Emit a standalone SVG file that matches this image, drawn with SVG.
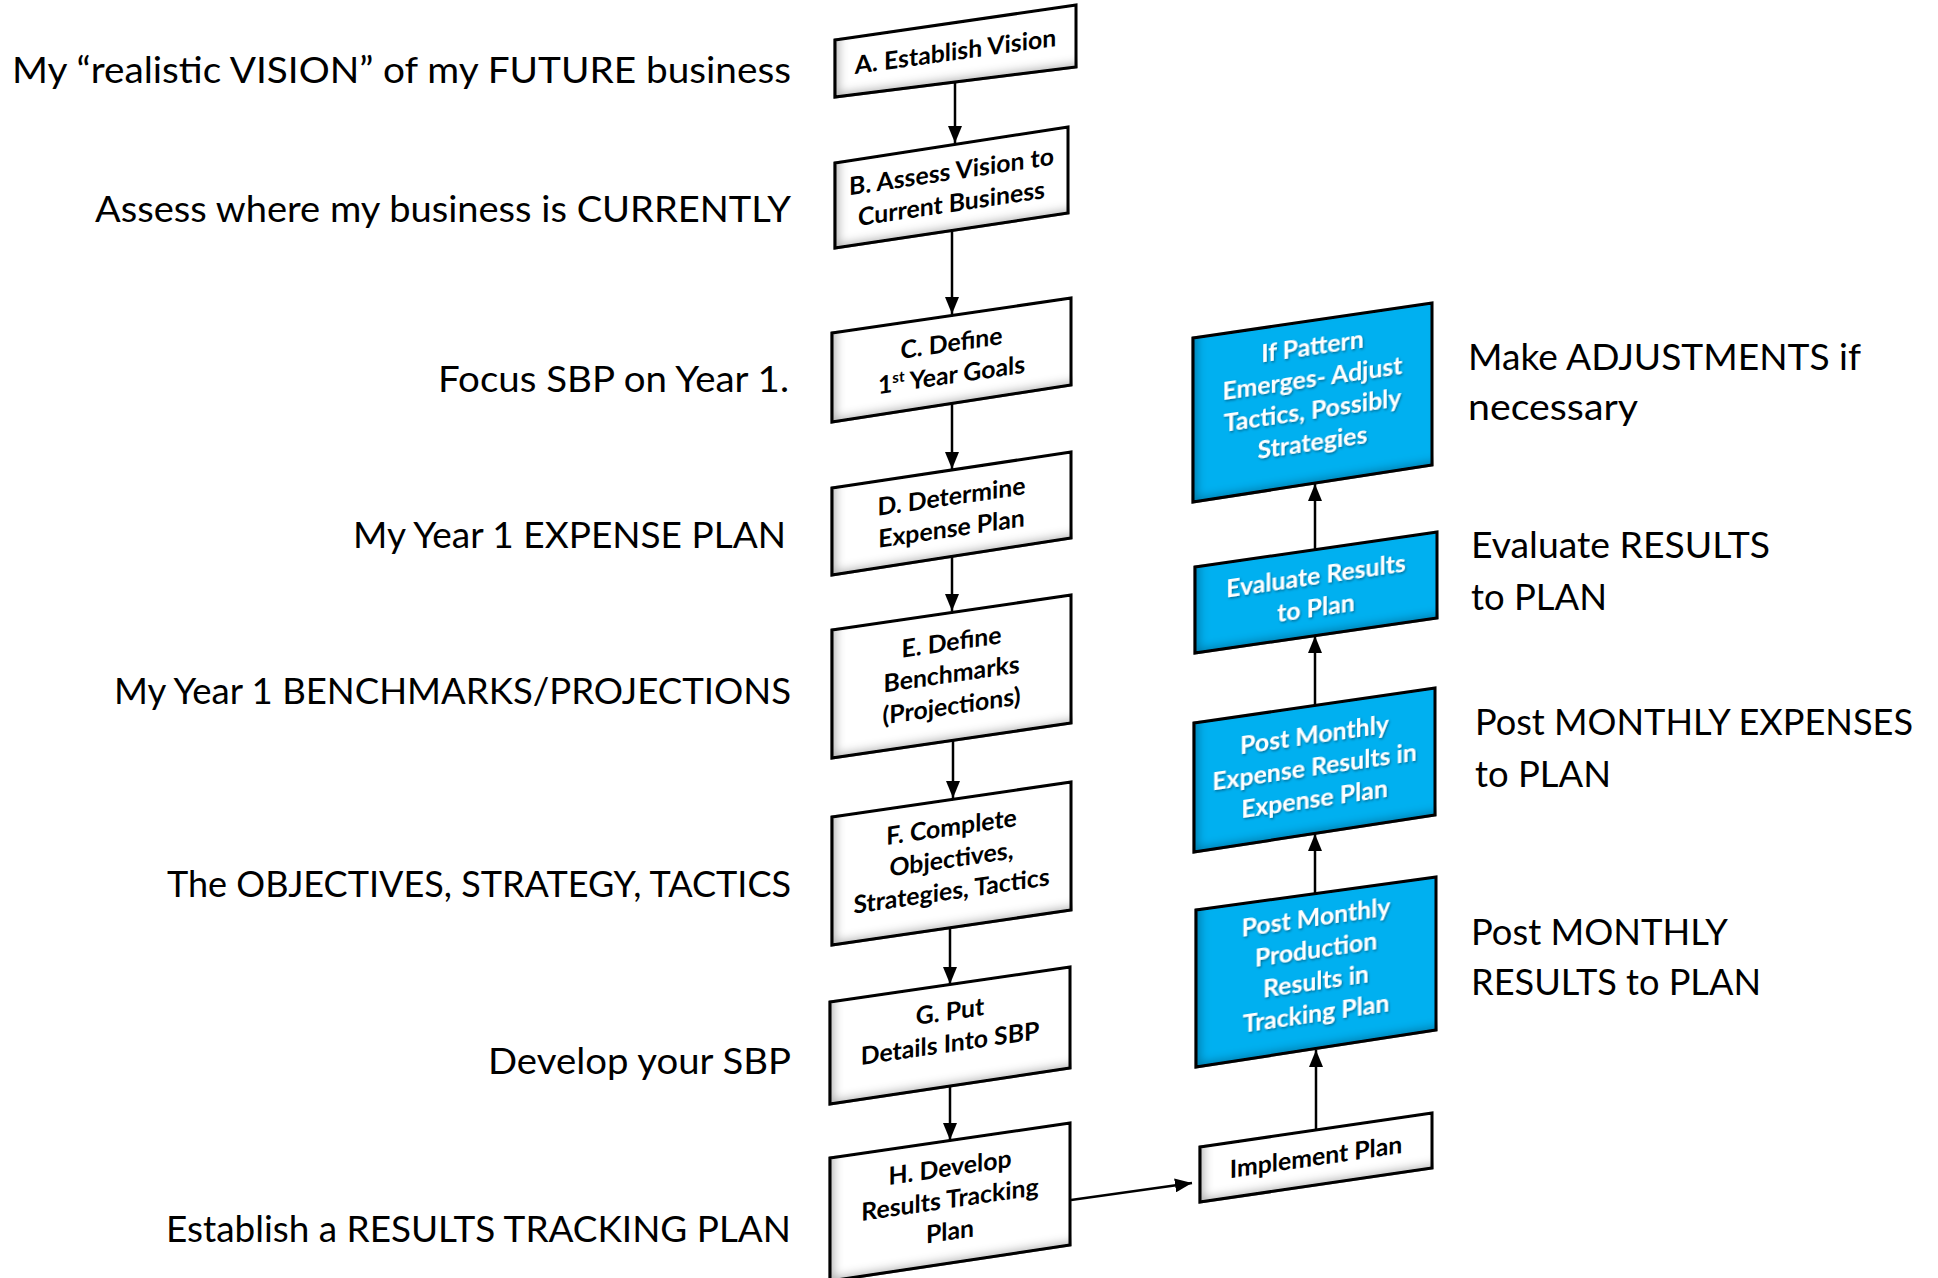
<svg xmlns="http://www.w3.org/2000/svg" width="1938" height="1278" viewBox="0 0 1938 1278">
  <style>
    .label { font-family: Lato, "Liberation Sans", sans-serif; font-size: 37px; fill: #000; }
    .box { stroke: #000; stroke-width: 3; stroke-linejoin: miter; filter: url(#inner); }
    .plain { fill: #fff; }
    .blue { fill: #00B0F0; }
    .bt { font-family: Lato, "Liberation Sans", sans-serif; font-weight: 700; font-size: 24.8px; text-anchor: middle; fill: #000; }
    .wt { font-family: Lato, "Liberation Sans", sans-serif; font-weight: 700; font-size: 24.8px; text-anchor: middle; fill: #fff; filter: url(#tshadow); }
    .link { stroke: #000; stroke-width: 2.5; fill: none; marker-end: url(#arrow); }
  </style>
  <defs>
    <!-- inset shading along the left and bottom edges of every box -->
    <filter id="inner" x="-15%" y="-25%" width="130%" height="150%">
      <feComponentTransfer in="SourceAlpha" result="inv">
        <feFuncA type="table" tableValues="1 0"/>
      </feComponentTransfer>
      <feOffset in="inv" dx="6" dy="-6" result="off"/>
      <feGaussianBlur in="off" stdDeviation="5" result="blur"/>
      <feFlood flood-color="#000" flood-opacity="0.55" result="col"/>
      <feComposite in="col" in2="blur" operator="in" result="sh"/>
      <feComposite in="sh" in2="SourceAlpha" operator="in" result="inset"/>
      <feMerge>
        <feMergeNode in="SourceGraphic"/>
        <feMergeNode in="inset"/>
      </feMerge>
    </filter>
    <filter id="tshadow" x="-10%" y="-30%" width="120%" height="160%">
      <feDropShadow dx="1" dy="1.5" stdDeviation="1" flood-color="#003a55" flood-opacity="0.6"/>
    </filter>
    <marker id="arrow" markerUnits="userSpaceOnUse" markerWidth="18" markerHeight="14" refX="17" refY="7" orient="auto">
      <path d="M0,0 L17,7 L0,14 Z" fill="#000"/>
    </marker>
  </defs>

  <rect width="1938" height="1278" fill="#fff"/>

  <!-- descriptions beside the planning steps -->
  <g id="labels-left">
    <text class="label" x="12" y="83" textLength="779" lengthAdjust="spacingAndGlyphs">My “realistic VISION” of my FUTURE business</text>
    <text class="label" x="95" y="222" textLength="696" lengthAdjust="spacingAndGlyphs">Assess where my business is CURRENTLY</text>
    <text class="label" x="438" y="392" textLength="351" lengthAdjust="spacingAndGlyphs">Focus SBP on Year 1.</text>
    <text class="label" x="353" y="548" textLength="433" lengthAdjust="spacingAndGlyphs">My Year 1 EXPENSE PLAN</text>
    <text class="label" x="114" y="704" textLength="677" lengthAdjust="spacingAndGlyphs">My Year 1 BENCHMARKS/PROJECTIONS</text>
    <text class="label" x="167" y="897" textLength="624" lengthAdjust="spacingAndGlyphs">The OBJECTIVES, STRATEGY, TACTICS</text>
    <text class="label" x="488" y="1074" textLength="303" lengthAdjust="spacingAndGlyphs">Develop your SBP</text>
    <text class="label" x="166" y="1242" textLength="625" lengthAdjust="spacingAndGlyphs">Establish a RESULTS TRACKING PLAN</text>
  </g>

  <!-- descriptions beside the monitoring steps -->
  <g id="labels-right">
    <text class="label" x="1468" y="370" textLength="393" lengthAdjust="spacingAndGlyphs">Make ADJUSTMENTS if</text>
    <text class="label" x="1468" y="420" textLength="170" lengthAdjust="spacingAndGlyphs">necessary</text>
    <text class="label" x="1471" y="558" textLength="299" lengthAdjust="spacingAndGlyphs">Evaluate RESULTS</text>
    <text class="label" x="1471" y="610" textLength="136" lengthAdjust="spacingAndGlyphs">to PLAN</text>
    <text class="label" x="1475" y="735" textLength="438" lengthAdjust="spacingAndGlyphs">Post MONTHLY EXPENSES</text>
    <text class="label" x="1475" y="787" textLength="136" lengthAdjust="spacingAndGlyphs">to PLAN</text>
    <text class="label" x="1471" y="945" textLength="257" lengthAdjust="spacingAndGlyphs">Post MONTHLY</text>
    <text class="label" x="1471" y="995" textLength="290" lengthAdjust="spacingAndGlyphs">RESULTS to PLAN</text>
  </g>

  <!-- connectors -->
  <g id="connectors">
    <line class="link" x1="955" y1="82" x2="955" y2="143"/>
    <line class="link" x1="952" y1="230" x2="952" y2="314"/>
    <line class="link" x1="952" y1="404" x2="952" y2="469"/>
    <line class="link" x1="952" y1="556" x2="952" y2="611"/>
    <line class="link" x1="953" y1="740" x2="953" y2="798"/>
    <line class="link" x1="950" y1="928" x2="950" y2="984"/>
    <line class="link" x1="950" y1="1086" x2="950" y2="1140"/>
    <line class="link" x1="1071" y1="1200" x2="1192" y2="1183"/>
    <line class="link" x1="1316" y1="1130" x2="1316" y2="1050"/>
    <line class="link" x1="1315" y1="893" x2="1315" y2="834"/>
    <line class="link" x1="1315" y1="705" x2="1315" y2="636"/>
    <line class="link" x1="1315" y1="549" x2="1315" y2="484"/>
  </g>

  <!-- planning steps -->
  <g id="node-a">
    <polygon class="box plain" points="835,40 1076,5 1076,67 835,97"/>
    <g transform="translate(955.5,52) skewY(-7.9)">
      <text class="bt" y="8">A. Establish Vision</text>
    </g>
  </g>
  <g id="node-b">
    <polygon class="box plain" points="835,163 1068,127 1068,213 835,248"/>
    <g transform="translate(951.5,188) skewY(-8.5)">
      <text class="bt" y="-8">B. Assess Vision to</text>
      <text class="bt" y="24">Current Business</text>
    </g>
  </g>
  <g id="node-c">
    <polygon class="box plain" points="832,333 1071,298 1071,385 832,422"/>
    <g transform="translate(951.5,359.5) skewY(-8.33)">
      <text class="bt" y="-8">C. Define</text>
      <text class="bt" y="24">1<tspan font-size="15" dy="-9">st</tspan><tspan dy="9"> Year Goals</tspan></text>
    </g>
  </g>
  <g id="node-d">
    <polygon class="box plain" points="832,488 1071,452 1071,538 832,575"/>
    <g transform="translate(951.5,513) skewY(-8.33)">
      <text class="bt" y="-8">D. Determine</text>
      <text class="bt" y="24">Expense Plan</text>
    </g>
  </g>
  <g id="node-e">
    <polygon class="box plain" points="832,630 1071,595 1071,723 832,758"/>
    <g transform="translate(951.5,676.5) skewY(-8.33)">
      <text class="bt" y="-26">E. Define</text>
      <text class="bt" y="6">Benchmarks</text>
      <text class="bt" y="38">(Projections)</text>
    </g>
  </g>
  <g id="node-f">
    <polygon class="box plain" points="832,817 1071,782 1071,910 832,945"/>
    <g transform="translate(951.5,863.5) skewY(-8.33)">
      <text class="bt" y="-28">F. Complete</text>
      <text class="bt" y="4">Objectives,</text>
      <text class="bt" y="36">Strategies, Tactics</text>
    </g>
  </g>
  <g id="node-g">
    <polygon class="box plain" points="830,1002 1070,967 1070,1068 830,1104"/>
    <g transform="translate(950,1035) skewY(-8.33)">
      <text class="bt" y="-15">G. Put</text>
      <text class="bt" y="17">Details Into SBP</text>
    </g>
  </g>
  <g id="node-h">
    <polygon class="box plain" points="830,1158 1070,1123 1070,1245 830,1281"/>
    <g transform="translate(950,1202) skewY(-8.33)">
      <text class="bt" y="-26">H. Develop</text>
      <text class="bt" y="6">Results Tracking</text>
      <text class="bt" y="38">Plan</text>
    </g>
  </g>

  <!-- monitoring steps -->
  <g id="node-implement">
    <polygon class="box plain" points="1200,1147 1432,1113 1432,1168 1200,1202"/>
    <g transform="translate(1316,1157.5) skewY(-8.33)">
      <text class="bt" y="8">Implement Plan</text>
    </g>
  </g>
  <g id="node-production">
    <polygon class="box blue" points="1196,910 1436,877 1436,1030 1196,1067"/>
    <g transform="translate(1316,971) skewY(-8.33)">
      <text class="wt" y="-45">Post Monthly</text>
      <text class="wt" y="-13">Production</text>
      <text class="wt" y="19">Results in</text>
      <text class="wt" y="51">Tracking Plan</text>
    </g>
  </g>
  <g id="node-expense">
    <polygon class="box blue" points="1194,723 1435,688 1435,815 1194,852"/>
    <g transform="translate(1314.5,769.5) skewY(-8.33)">
      <text class="wt" y="-26">Post Monthly</text>
      <text class="wt" y="6">Expense Results in</text>
      <text class="wt" y="38">Expense Plan</text>
    </g>
  </g>
  <g id="node-evaluate">
    <polygon class="box blue" points="1195,567 1437,532 1437,618 1195,653"/>
    <g transform="translate(1316,592.5) skewY(-8.33)">
      <text class="wt" y="-8">Evaluate Results</text>
      <text class="wt" y="24">to Plan</text>
    </g>
  </g>
  <g id="node-adjust">
    <polygon class="box blue" points="1193,338 1432,303 1432,465 1193,502"/>
    <g transform="translate(1312.5,402) skewY(-8.33)">
      <text class="wt" y="-47">If Pattern</text>
      <text class="wt" y="-15">Emerges- Adjust</text>
      <text class="wt" y="17">Tactics, Possibly</text>
      <text class="wt" y="49">Strategies</text>
    </g>
  </g>
</svg>
